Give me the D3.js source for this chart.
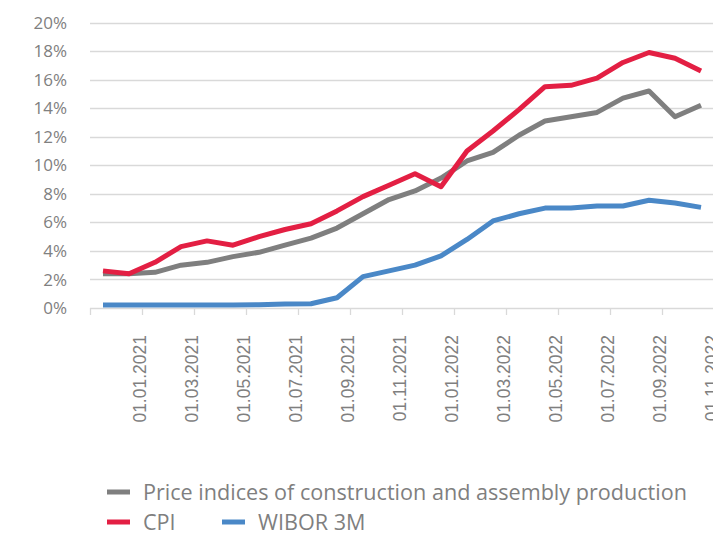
<!DOCTYPE html>
<html>
<head>
<meta charset="utf-8">
<script src="https://cdn.jsdelivr.net/npm/d3@7"></script>
<style>
  body { margin: 0; background: #fff; }
  svg { display: block; }
</style>
</head>
<body>
<div id="chart"></div>
<script>
// monthly values, Jan 2021 - Dec 2022
var months = ["01.2021", "02.2021", "03.2021", "04.2021", "05.2021", "06.2021",
  "07.2021", "08.2021", "09.2021", "10.2021", "11.2021", "12.2021",
  "01.2022", "02.2022", "03.2022", "04.2022", "05.2022", "06.2022",
  "07.2022", "08.2022", "09.2022", "10.2022", "11.2022", "12.2022"];

var construction = [2.4, 2.4, 2.5, 3.0, 3.2, 3.6, 3.9, 4.4, 4.9, 5.6,
  6.6, 7.6, 8.2, 9.1, 10.3, 10.9, 12.1, 13.1, 13.4, 13.7, 14.7, 15.2, 13.4, 14.2];

var cpi = [2.6, 2.4, 3.2, 4.3, 4.7, 4.4, 5.0, 5.5, 5.9, 6.8,
  7.8, 8.6, 9.4, 8.5, 11.0, 12.4, 13.9, 15.5, 15.6, 16.1, 17.2, 17.9, 17.5, 16.6];

var wibor = [0.21, 0.21, 0.21, 0.21, 0.21, 0.21, 0.23, 0.28, 0.3, 0.72,
  2.2, 2.6, 3.0, 3.65, 4.8, 6.1, 6.6, 7.0, 7.0, 7.15, 7.15, 7.55, 7.35, 7.05];

var yTicks = [0, 2, 4, 6, 8, 10, 12, 14, 16, 18, 20];

var xTickLabels = ["01.01.2021", "01.03.2021", "01.05.2021", "01.07.2021",
  "01.09.2021", "01.11.2021", "01.01.2022", "01.03.2022", "01.05.2022",
  "01.07.2022", "01.09.2022", "01.11.2022"];

var series = [
  { name: "Price indices of construction and assembly production", values: construction, color: "#7f7f7f" },
  { name: "CPI", values: cpi, color: "#e31f43" },
  { name: "WIBOR 3M", values: wibor, color: "#4a88c7" }
];

var W = 713, H = 536;
var svg = d3.select("#chart").append("svg")
  .attr("width", W)
  .attr("height", H);

var x = d3.scaleLinear()
  .domain([0, months.length])
  .range([90, 714]);

var y = d3.scaleLinear()
  .domain([0, 20])
  .range([308, 22.5]);

// gridlines
svg.append("g")
  .selectAll("line")
  .data(yTicks)
  .enter().append("line")
  .attr("x1", 90)
  .attr("x2", W)
  .attr("y1", function (d) { return Math.round(y(d)) + 0.5; })
  .attr("y2", function (d) { return Math.round(y(d)) + 0.5; })
  .style("stroke", "#d9d9d9")
  .style("stroke-width", 1.3);

// y labels
svg.append("g")
  .selectAll("text")
  .data(yTicks)
  .enter().append("text")
  .attr("x", 67)
  .attr("y", function (d) { return y(d); })
  .attr("dy", "0.36em")
  .style("text-anchor", "end")
  .style("font-family", "'Open Sans', sans-serif")
  .style("font-size", "17px")
  .style("fill", "#808080")
  .text(function (d) { return d + "%"; });

// x tick marks (every 2 months)
var xTickVals = d3.range(0, months.length + 1, 2);
svg.append("g")
  .selectAll("line")
  .data(xTickVals)
  .enter().append("line")
  .attr("x1", function (d) { return Math.round(x(d)) + 0.5; })
  .attr("x2", function (d) { return Math.round(x(d)) + 0.5; })
  .attr("y1", y(0))
  .attr("y2", y(0) + 7)
  .style("stroke", "#d9d9d9")
  .style("stroke-width", 1.3);

// x labels, rotated (the last one runs off the right edge, as in the original)
svg.append("g")
  .selectAll("text")
  .data(xTickLabels)
  .enter().append("text")
  .attr("transform", function (d, i) {
    return "translate(" + (x((i + 1) * 2) - 2) + "," + (y(0) + 27) + ") rotate(-90)";
  })
  .attr("dy", "0.36em")
  .style("text-anchor", "end")
  .style("font-family", "'Liberation Sans', Arial, sans-serif")
  .style("font-size", "17.5px")
  .style("fill", "#7f7f7f")
  .text(function (d) { return d; });

// lines
var line = d3.line()
  .x(function (d, i) { return x(i + 0.5); })
  .y(function (d) { return y(d); });

svg.append("g")
  .selectAll("path")
  .data(series)
  .enter().append("path")
  .attr("d", function (d) { return line(d.values); })
  .style("fill", "none")
  .style("stroke", function (d) { return d.color; })
  .style("stroke-width", 5)
  .style("stroke-linejoin", "round");

// legend
var legendPos = [
  { x: 107, y: 492 },
  { x: 107, y: 522 },
  { x: 222, y: 522 }
];

var legend = svg.append("g")
  .selectAll("g")
  .data(series)
  .enter().append("g")
  .attr("transform", function (d, i) { return "translate(" + legendPos[i].x + "," + legendPos[i].y + ")"; });

legend.append("line")
  .attr("x1", 0)
  .attr("x2", 23)
  .style("stroke", function (d) { return d.color; })
  .style("stroke-width", 5);

legend.append("text")
  .attr("x", 36)
  .attr("dy", "0.36em")
  .style("font-family", "'Open Sans', sans-serif")
  .style("font-size", "21.6px")
  .style("fill", "#7f7f7f")
  .text(function (d) { return d.name; });
</script>
</body>
</html>
